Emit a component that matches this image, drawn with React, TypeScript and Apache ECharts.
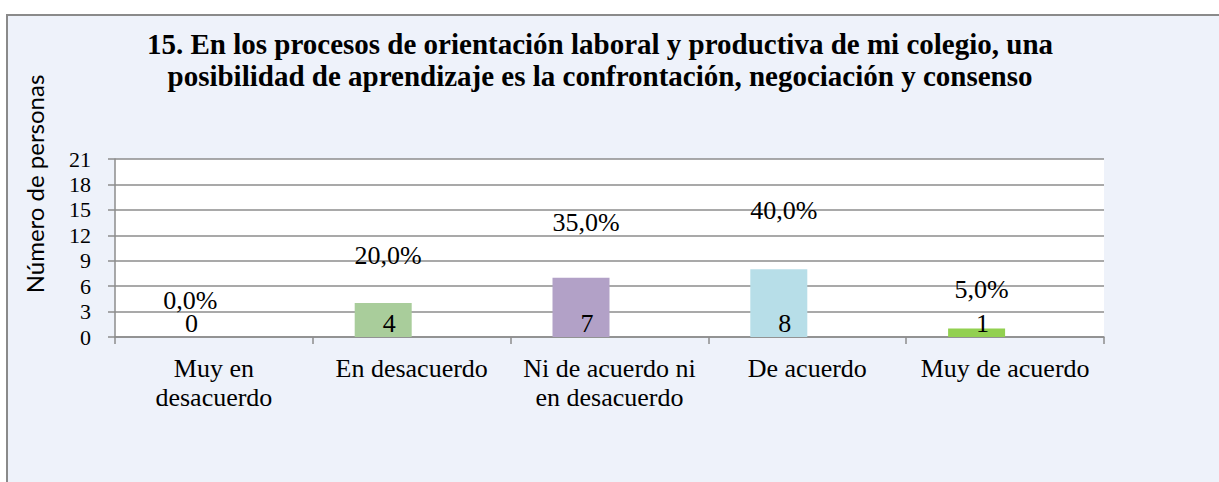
import React, { useEffect, useRef } from "react";
import * as echarts from "echarts";

const titleLines = [
  "15. En los procesos de orientación laboral y productiva de mi colegio, una",
  "posibilidad de aprendizaje es la confrontación, negociación y consenso",
];
const yAxisName = "Número de personas";
const categories = [
  "Muy en\ndesacuerdo",
  "En desacuerdo",
  "Ni de acuerdo ni\nen desacuerdo",
  "De acuerdo",
  "Muy de acuerdo",
];
const counts = [0, 4, 7, 8, 1];
const percents = [0, 20, 35, 40, 5];
const barColors = ["#4F81BD", "#A9CD9B", "#B2A1C7", "#B7DEE8", "#92D050"];
const yMin = 0;
const yMax = 21;
const yInterval = 3;

const SERIF = "Liberation Serif";
const GRID_COLOR = "#8C8C8C";

export default function App() {
  const ref = useRef<HTMLDivElement>(null);

  useEffect(() => {
    if (!ref.current) return;
    const chart = echarts.init(ref.current, null, { renderer: "svg" });
    chart.setOption({
      animation: false,
      backgroundColor: "#FFFFFF",
      title: {
        text: titleLines.join("\n"),
        left: 600,
        top: 28,
        textAlign: "center",
        padding: 0,
        textStyle: {
          fontFamily: SERIF,
          fontWeight: "bold",
          fontSize: 29,
          lineHeight: 32,
          color: "#000",
        },
      },
      graphic: [
        {
          type: "rect",
          z: -100,
          shape: { x: 7, y: 15, width: 1300, height: 600 },
          style: { fill: "#EEF2FA", stroke: "#8A8A8A", lineWidth: 2 },
        },
        {
          type: "text",
          x: 34,
          y: 184,
          rotation: Math.PI / 2,
          style: {
            text: yAxisName,
            fontFamily: "Lato",
            fontSize: 24,
            fill: "#000",
            textAlign: "center",
            textVerticalAlign: "middle",
          },
        },
      ],
      grid: {
        left: 115,
        right: 115,
        top: 159,
        bottom: 145,
        show: true,
        backgroundColor: "#FFFFFF",
        borderWidth: 0,
      },
      xAxis: {
        type: "category",
        data: categories,
        axisLine: { show: true, lineStyle: { color: GRID_COLOR, width: 1.5 } },
        axisTick: { show: true, length: 7, lineStyle: { color: GRID_COLOR, width: 1.5 } },
        axisLabel: {
          fontFamily: SERIF,
          fontSize: 26,
          lineHeight: 29,
          color: "#000",
          margin: 17,
          interval: 0,
        },
      },
      yAxis: [
        {
          type: "value",
          min: yMin,
          max: yMax,
          interval: yInterval,
          axisLine: { show: true, lineStyle: { color: GRID_COLOR, width: 1.5 } },
          axisTick: { show: true, length: 7, lineStyle: { color: GRID_COLOR, width: 1.5 } },
          splitLine: { show: true, lineStyle: { color: GRID_COLOR, width: 1.5 } },
          axisLabel: {
            fontFamily: SERIF,
            fontSize: 22,
            color: "#000",
            margin: 24,
          },
        },
        {
          type: "value",
          show: false,
          min: -8.5,
          max: 70.6,
          splitLine: { show: false },
        },
      ],
      series: [
        {
          name: "Personas",
          type: "bar",
          barWidth: 57,
          barGap: "0%",
          data: counts.map((v, i) => ({ value: v, itemStyle: { color: barColors[i] } })),
          label: {
            show: true,
            position: "insideBottom",
            distance: 4,
            offset: [6, 0],
            fontFamily: SERIF,
            fontSize: 26,
            lineHeight: 20,
            color: "#000",
          },
        },
        {
          name: "Porcentaje",
          type: "bar",
          yAxisIndex: 1,
          barWidth: 57,
          barGap: "0%",
          data: percents,
          itemStyle: { color: "rgba(0,0,0,0)" },
          label: {
            show: true,
            position: "top",
            distance: 7,
            offset: [-52, 0],
            fontFamily: SERIF,
            fontSize: 26,
            lineHeight: 20,
            color: "#000",
            formatter: (p: any) => `${Number(p.value).toFixed(1).replace(".", ",")}%`,
          },
        },
      ],
    });
    return () => chart.dispose();
  }, []);

  return (
    <div
      ref={ref}
      style={{ position: "absolute", left: 0, top: 0, width: 1219, height: 482 }}
    />
  );
}
